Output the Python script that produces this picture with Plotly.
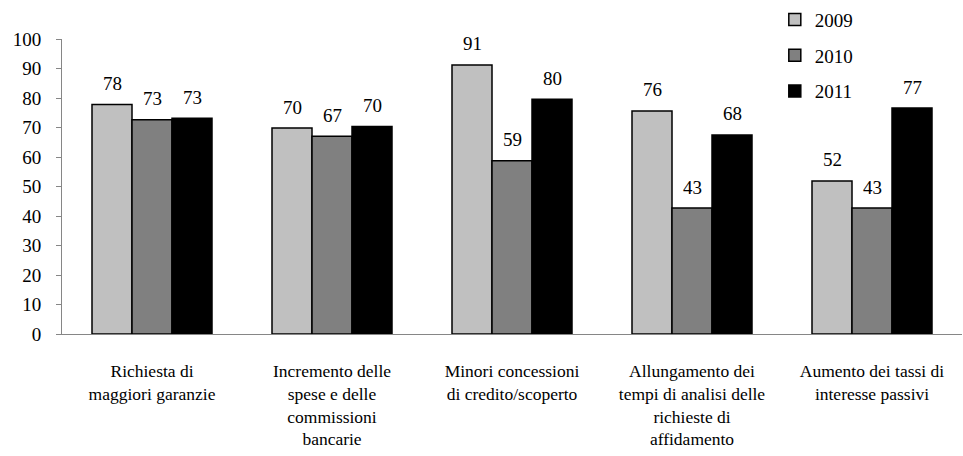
import plotly.graph_objects as go

categories = [
    "Richiesta di<br>maggiori garanzie",
    "Incremento delle<br>spese e delle<br>commissioni<br>bancarie",
    "Minori concessioni<br>di credito/scoperto",
    "Allungamento dei<br>tempi di analisi delle<br>richieste di<br>affidamento",
    "Aumento dei tassi di<br>interesse passivi",
]
series_names = ["2009", "2010", "2011"]
values_2009 = [77.8, 69.8, 91.2, 75.6, 51.9]
values_2010 = [72.6, 67.0, 58.7, 42.7, 42.7]
values_2011 = [73.1, 70.3, 79.6, 67.5, 76.6]
y_ticks = [0, 10, 20, 30, 40, 50, 60, 70, 80, 90, 100]

colors = ["#c0c0c0", "#808080", "#000000"]
FONT = "Liberation Serif"
W, H = 963, 456
ML, MR, MT, MB = 62, 1, 39, 122
BARGAP = 1 / 3

all_values = [values_2009, values_2010, values_2011]

fig = go.Figure()
for name, vals, col in zip(series_names, all_values, colors):
    fig.add_trace(go.Bar(
        x=categories, y=vals, name=name, legendgroup=name,
        marker=dict(color=col, line=dict(color="#000000", width=1.5)),
    ))

# data labels
plot_w = W - ML - MR
bar_px = plot_w / len(categories) * (1 - BARGAP) / len(series_names)
annotations = []
for i, vals in enumerate(all_values):
    for c, v in zip(categories, vals):
        annotations.append(dict(
            x=c, y=v, xref="x", yref="y", text=f"{round(v)}",
            showarrow=False, xshift=(i - 1) * bar_px, yshift=21,
            yanchor="middle", font=dict(family=FONT, size=19, color="#000000"),
        ))

fig.update_layout(
    width=W, height=H,
    margin=dict(l=ML, r=MR, t=MT, b=MB, pad=0, autoexpand=False),
    paper_bgcolor="white", plot_bgcolor="white",
    barmode="group", bargap=BARGAP, bargroupgap=0,
    font=dict(family=FONT, size=19, color="#000000"),
    annotations=annotations,
    showlegend=True,
    legend=dict(
        x=0.792, y=1.13, xanchor="left", yanchor="top",
        font=dict(family=FONT, size=19, color="#000000"),
        bgcolor="rgba(0,0,0,0)", tracegroupgap=8, traceorder="grouped",
    ),
    xaxis=dict(
        type="category", showgrid=False, showline=True, linecolor="#868686",
        linewidth=1, ticks="", ticklabelstandoff=21,
        tickfont=dict(family=FONT, size=17.5, color="#000000"),
    ),
    yaxis=dict(
        range=[0, 100], tickvals=y_ticks, showgrid=False, zeroline=False,
        showline=True, linecolor="#868686", linewidth=1,
        ticks="outside", ticklen=5, tickcolor="#868686",
        ticklabelstandoff=11,
        tickfont=dict(family=FONT, size=19, color="#000000"),
    ),
)

fig.write_html("out.html")
